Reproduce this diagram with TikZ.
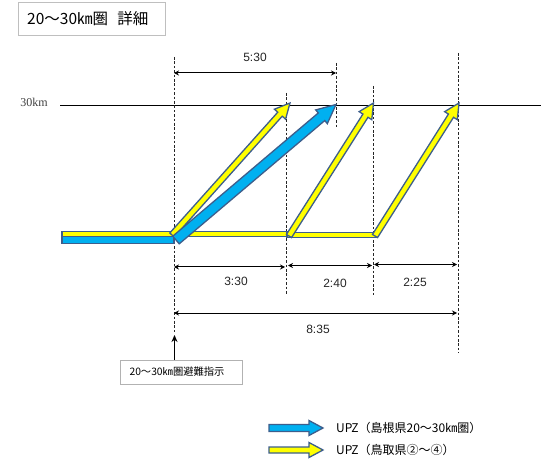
\documentclass[tikz,border=0pt]{standalone}
\usepackage{fontspec}
\setmainfont{Liberation Sans}
\newfontfamily\cjk{Noto Sans CJK JP}
\newfontfamily\serifkm{Liberation Serif}
\usetikzlibrary{arrows.meta}
\definecolor{outl}{HTML}{3D5E8C}
\definecolor{bluef}{HTML}{00B0F0}
\definecolor{yelf}{HTML}{FFFF00}
\tikzset{
  guide/.style={draw=black!85, line width=0.6pt, dash pattern=on 2.6pt off 1.8pt},
  dim/.style={draw=black, line width=1pt, {Stealth[length=5pt,width=5pt]}-{Stealth[length=5pt,width=5pt]}},
  dimlabel/.style={font=\fontsize{12}{13}\selectfont, text=black!85},
  yel/.style={fill=yelf, draw=outl, line width=1.3pt, line join=miter},
  blu/.style={fill=bluef, draw=outl, line width=1.3pt, line join=miter},
  titlebox/.style={draw=black!25, line width=0.8pt, fill=white, inner sep=0pt},
}
% block arrow: #1 style, #2 from, #3 to, #4 shaft half width, #5 head half width, #6 head length
\newcommand\barrow[6]{%
  \path (#2); \pgfgetlastxy{\bax}{\bay}%
  \path (#3); \pgfgetlastxy{\bbx}{\bby}%
  \pgfmathsetmacro\bang{atan2(\bby-\bay,\bbx-\bax)}%
  \pgfmathsetmacro\blen{veclen(\bbx-\bax,\bby-\bay)}%
  \begin{scope}[shift={(#2)}, rotate=\bang, x=1pt, y=1pt]
    \draw[#1] (0,-#4) -- (\blen-#6,-#4) -- (\blen-#6,-#5) -- (\blen,0) -- (\blen-#6,#5) -- (\blen-#6,#4) -- (0,#4) -- cycle;
  \end{scope}}
\begin{document}
\begin{tikzpicture}[x=1pt,y=-1pt]
\useasboundingbox (0,0) rectangle (541,473);
\fill[white] (0,0) rectangle (541,473);

% title
\node[titlebox, minimum width=147pt, minimum height=33pt] (title) at (91.5,19) {};
\node[font=\cjk\fontsize{15.5}{17}\selectfont, anchor=west, inner sep=0pt] (titletext) at (27,19) {20～30㎞圏\hspace{0.6em}詳細};

% 30km line
\node[font=\serifkm\fontsize{12}{14}\selectfont, text=black!75, anchor=center] (km) at (34,102) {30km};
\coordinate (lineL) at (60,105);
\coordinate (lineR) at (541,105);
\draw[black, line width=0.9pt] (lineL) -- (lineR);

% dashed guides
\coordinate (g0t) at (174,57);  \coordinate (g0b) at (174,333);
\coordinate (g1t) at (286,93);  \coordinate (g1b) at (286,295);
\coordinate (g2t) at (336,63);  \coordinate (g2b) at (336,128);
\coordinate (g3t) at (373,86);  \coordinate (g3b) at (373,295);
\coordinate (g4t) at (458,53);  \coordinate (g4b) at (458,353);
\foreach \a in {0,...,4} \draw[guide] (g\a t) -- (g\a b);

% horizontal bars
\draw[yel] (62,231.5) rectangle (174,236.5);
\draw[blu] (62,236.5) rectangle (174,243.5);
\draw[yel] (174,231.8) rectangle (287,236.8);
\draw[yel] (287,232.3) rectangle (376,237.8);

% diagonal arrows
\coordinate (y1s) at (172,235);  \coordinate (y1e) at (290,103);
\coordinate (b1s) at (176,240);  \coordinate (b1e) at (336,104.5);
\coordinate (y2s) at (289,236);  \coordinate (y2e) at (373.5,103);
\coordinate (y3s) at (375,236);  \coordinate (y3e) at (459,103);
\barrow{yel}{y1s}{y1e}{3}{7.5}{15}
\barrow{blu}{b1s}{b1e}{5}{9}{19}
\barrow{yel}{y2s}{y2e}{3}{7.5}{15}
\barrow{yel}{y3s}{y3e}{3}{7.5}{15}

% dimension lines
\coordinate (d530a) at (174,73);  \coordinate (d530b) at (336,73);
\draw[dim] (d530a) -- (d530b);
\node[dimlabel] (l530) at (255,57) {5:30};
\coordinate (d330a) at (174,267); \coordinate (d330b) at (285,267);
\draw[dim] (d330a) -- (d330b);
\node[dimlabel] (l330) at (236,281) {3:30};
\coordinate (d240a) at (288,265.5); \coordinate (d240b) at (372,265.5);
\draw[dim] (d240a) -- (d240b);
\node[dimlabel] (l240) at (335,283) {2:40};
\coordinate (d225a) at (374,264.5); \coordinate (d225b) at (457,264.5);
\draw[dim] (d225a) -- (d225b);
\node[dimlabel] (l225) at (415,282) {2:25};
\coordinate (d835a) at (174,313); \coordinate (d835b) at (457,313);
\draw[dim] (d835a) -- (d835b);
\node[dimlabel] (l835) at (318,329) {8:35};

% instruction box
\node[draw=black!30, line width=0.8pt, minimum width=122pt, minimum height=24pt, inner sep=0pt] (instr) at (181,372) {};
\node[font=\cjk\fontsize{10.3}{12}\selectfont, anchor=west] (instrtext) at (126,372) {20～30㎞圏避難指示};
\coordinate (instrtip) at (174.5,335);
\draw[black, line width=1.4pt, -{Stealth[length=7pt,width=6pt]}] (instr.north -| instrtip) -- (instrtip);

% legend
\coordinate (lg1s) at (269,428); \coordinate (lg1e) at (323,428);
\coordinate (lg2s) at (269,450); \coordinate (lg2e) at (323,450);
\barrow{blu}{lg1s}{lg1e}{3.5}{7.5}{14}
\barrow{yel}{lg2s}{lg2e}{3}{7.5}{14}
\node[font=\cjk\fontsize{12}{14}\selectfont, anchor=west, inner sep=0pt] (lgt1) at (336,428) {UPZ（島根県20～30㎞圏）};
\node[font=\cjk\fontsize{12}{14}\selectfont, anchor=west, inner sep=0pt] (lgt2) at (336,450) {UPZ（鳥取県②～④）};
\end{tikzpicture}
\end{document}
